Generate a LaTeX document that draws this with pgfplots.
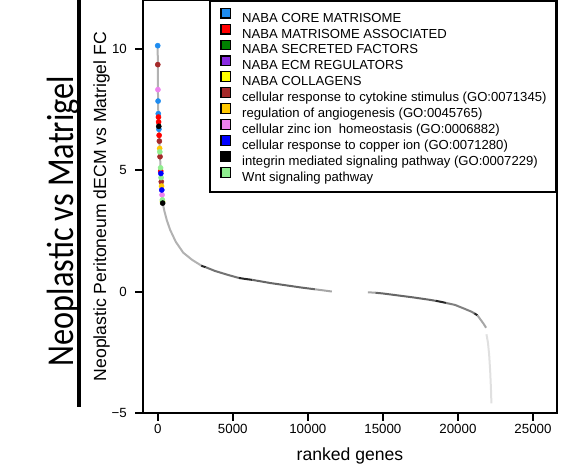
\documentclass[border=0pt]{standalone}
\usepackage{fontspec}
\setmainfont{Liberation Sans}
\newfontfamily\titlefont{Carlito}
\usepackage{pgfplots}
\pgfplotsset{compat=1.18}

\definecolor{cCore}{HTML}{1E8CF0}
\definecolor{cAssoc}{HTML}{FF0000}
\definecolor{cSecr}{HTML}{008000}
\definecolor{cReg}{HTML}{8A2BE2}
\definecolor{cColl}{HTML}{FFFF00}
\definecolor{cCyto}{HTML}{A52A2A}
\definecolor{cAngio}{HTML}{FFC800}
\definecolor{cZinc}{HTML}{EE82EE}
\definecolor{cCopper}{HTML}{0000FF}
\definecolor{cInteg}{HTML}{000000}
\definecolor{cWnt}{HTML}{90EE90}

\pgfplotsset{
  legsq/.style={legend image code/.code={
    \path[draw=none, fill=none] (0pt,0pt) rectangle (13.5pt,9pt);
    \draw[black, line width=1.2pt, fill=#1] (4pt,0.3pt) rectangle (13.5pt,9.8pt);}},
  genedot/.style={only marks, mark=*, mark size=2.6pt, mark options={draw=#1, fill=#1}, forget plot},
  fcline/.style={no marks, line width=2pt, color=#1, forget plot},
}

\begin{document}
\begin{tikzpicture}

\begin{axis}[
  at={(143pt,55pt)}, anchor=south west,
  width=414pt, height=413pt, scale only axis,
  xmin=-980, xmax=26600, ymin=-5, ymax=12,
  axis x line=bottom, axis y line=left,
  axis line style={-, line width=2pt, black},
  tick align=outside,
  major tick length=8pt,
  tick style={line width=2pt, black},
  xtick={0,5000,10000,15000,20000,25000},
  xticklabels={0,5000,10000,15000,20000,25000},
  scaled x ticks=false,
  ytick={-5,0,5,10},
  yticklabels={},
  tick label style={font=\fontsize{13.3}{15}\selectfont},
  xlabel={ranked genes},
  ylabel={Neoplastic Peritoneum dECM vs Matrigel FC},
  label style={font=\fontsize{17.6}{20}\selectfont},
  xlabel style={at={(axis description cs:0.5,-0.116)}, anchor=base},
  ylabel style={at={(axis description cs:-0.089,0.5)}, anchor=base},
  legend style={at={(rel axis cs:1,1)}, anchor=north east, draw=black, line width=2pt,
    inner xsep=7.5pt, inner ysep=7pt, column sep=9pt, row sep=-1.9pt,
    font=\fontsize{13.1}{15}\selectfont},
  legend cell align=left,
]

% ranked fold-change curve, grey shade varies along the rank
\addplot[fcline=black!30] coordinates {
  (0,10.12) (5,9.34) (15,8.31) (25,7.84) (40,7.32) (60,6.98) (80,6.68)
  (110,6.19) (140,5.75) (190,5.09) (240,4.52) (290,3.98) (330,3.64)
  (450,3.3) (600,2.95) (820,2.55) (1200,2.05) (1700,1.6) (2300,1.3) (2900,1.07)};
\addplot[fcline=black!85] coordinates {(2900,1.07) (3000,1.04) (3200,1.0)};
\addplot[fcline=black!55] coordinates {(3200,1.0) (3800,0.85) (4700,0.68) (5400,0.56)};
\addplot[fcline=black!85] coordinates {(5400,0.56) (5800,0.52) (6300,0.48)};
\addplot[fcline=black!60] coordinates {(6300,0.48) (7500,0.35) (8500,0.26) (9500,0.17) (10500,0.09)};
\addplot[fcline=black!35] coordinates {(10500,0.09) (11000,0.05) (11600,0.0)};
\addplot[fcline=black!35] coordinates {(14000,-0.03) (14500,-0.05)};
\addplot[fcline=black!60] coordinates {(14500,-0.05) (15000,-0.08) (16000,-0.16) (17000,-0.24) (18000,-0.33) (18500,-0.38)};
\addplot[fcline=black!85] coordinates {(18500,-0.38) (19000,-0.44) (19200,-0.47)};
\addplot[fcline=black!50] coordinates {(19200,-0.47) (19800,-0.55) (20400,-0.7) (20900,-0.83) (21100,-0.9)};
\addplot[fcline=black!85] coordinates {(21100,-0.9) (21300,-0.98)};
\addplot[fcline=black!35] coordinates {(21300,-0.98) (21500,-1.15) (21700,-1.32) (21875,-1.49)};
\addplot[fcline=black!12] coordinates {(21900,-1.76) (22000,-2.1) (22080,-2.6) (22150,-3.3) (22200,-4.0) (22230,-4.6)};

% genes in highlighted gene sets
\addplot[genedot=cCore] coordinates {(0,10.12) (25,7.84) (40,7.32) (80,6.68)};
\addplot[genedot=cZinc] coordinates {(15,8.31) (290,3.98)};
\addplot[genedot=cCyto] coordinates {(5,9.34) (110,6.19) (155,5.55) (240,4.52)};
\addplot[genedot=cAssoc] coordinates {(50,7.18) (60,6.98) (95,6.43) (200,4.96)};
\addplot[genedot=cAngio] coordinates {(130,5.89) (255,4.34)};
\addplot[genedot=cColl] coordinates {(320,3.70)};
\addplot[genedot=cWnt] coordinates {(140,5.75) (190,5.09) (225,4.69) (310,3.77)};
\addplot[genedot=cCopper] coordinates {(210,4.86) (270,4.18)};
\addplot[genedot=cInteg] coordinates {(70,6.80) (330,3.64)};

\addlegendimage{legsq=cCore}\addlegendentry{NABA CORE MATRISOME}
\addlegendimage{legsq=cAssoc}\addlegendentry{NABA MATRISOME ASSOCIATED}
\addlegendimage{legsq=cSecr}\addlegendentry{NABA SECRETED FACTORS}
\addlegendimage{legsq=cReg}\addlegendentry{NABA ECM REGULATORS}
\addlegendimage{legsq=cColl}\addlegendentry{NABA COLLAGENS}
\addlegendimage{legsq=cCyto}\addlegendentry{cellular response to cytokine stimulus (GO:0071345)}
\addlegendimage{legsq=cAngio}\addlegendentry{regulation of angiogenesis (GO:0045765)}
\addlegendimage{legsq=cZinc}\addlegendentry{cellular zinc ion\ \ homeostasis (GO:0006882)}
\addlegendimage{legsq=cCopper}\addlegendentry{cellular response to copper ion (GO:0071280)}
\addlegendimage{legsq=cInteg}\addlegendentry{integrin mediated signaling pathway (GO:0007229)}
\addlegendimage{legsq=cWnt}\addlegendentry{Wnt signaling pathway}
\end{axis}

% frame, ticks and y tick labels (same geometry as the axis above)
\begin{scope}[line width=2pt]
  \draw (143pt,470pt) -- (143pt,55pt) -- (557pt,55pt) -- (557pt,470pt);
  \draw (557pt,468pt) -- (143pt,468pt);
  \foreach \yy in {55,176.47,297.94,419.41} \draw (135pt,\yy pt) -- (143pt,\yy pt);
  \foreach \xx in {157.71,232.77,307.82,382.87,457.93,532.98} \draw (\xx pt,55pt) -- (\xx pt,47pt);
\end{scope}
\begin{scope}[font=\fontsize{13.3}{15}\selectfont]
  \node[anchor=east, inner sep=0pt] at (127pt,55pt) {−5};
  \node[anchor=east, inner sep=0pt] at (127pt,176.47pt) {0};
  \node[anchor=east, inner sep=0pt] at (127pt,297.94pt) {5};
  \node[anchor=east, inner sep=0pt] at (127pt,419.41pt) {10};
\end{scope}

% side title
\node[rotate=90, xscale=0.85, anchor=base, font=\titlefont\fontsize{38}{40}\selectfont] at (73pt,247pt) {Neoplastic vs Matrigel};
\draw[line width=4pt] (79pt,468pt) -- (79pt,61pt);

\pgfresetboundingbox
\path[use as bounding box] (0pt,0pt) rectangle (565pt,468pt);
\end{tikzpicture}
\end{document}
